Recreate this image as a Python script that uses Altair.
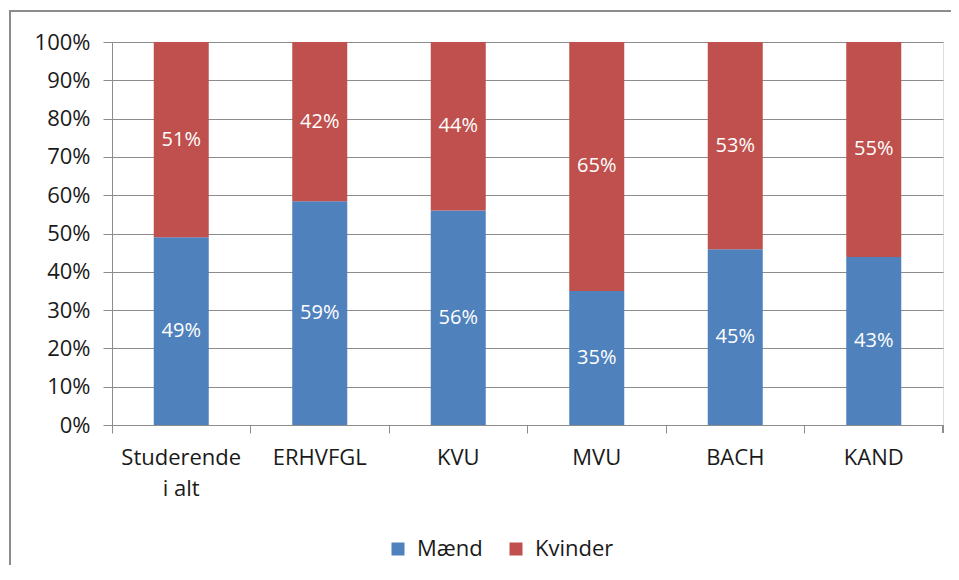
import altair as alt
import pandas as pd

categories = ["Studerende i alt", "ERHVFGL", "KVU", "MVU", "BACH", "KAND"]
series = ["Mænd", "Kvinder"]
maend = [49, 59, 56, 35, 45, 43]
kvinder = [51, 42, 44, 65, 53, 55]
colors = ["#4F81BD", "#C0504D"]
y_ticks = [0, 0.1, 0.2, 0.3, 0.4, 0.5, 0.6, 0.7, 0.8, 0.9, 1.0]

rows = []
for i, c in enumerate(categories):
    rows.append({"cat": c, "series": "Mænd", "value": maend[i], "ord": 0})
    rows.append({"cat": c, "series": "Kvinder", "value": kvinder[i], "ord": 1})
df = pd.DataFrame(rows)

FONT = "Open Sans"
W, H = 831, 383
GRAY = "#8C8C8C"
PB = 140

xaxis = alt.Axis(
    title=None,
    labelAngle=0,
    bandPosition=0,
    tickSize=8,
    tickColor=GRAY,
    domainColor=GRAY,
    labelFontSize=22,
    labelFont=FONT,
    labelColor="#1a1a1a",
    labelPadding=14,
    labelLineHeight=31,
    labelBaseline="top",
    labelExpr="datum.label == 'Studerende i alt' ? ['Studerende', 'i alt'] : datum.label",
)
xscale = alt.Scale(paddingInner=0, paddingOuter=0)

yscale = alt.Scale(domain=[0, 1])
yaxis = alt.Axis(
    title=None,
    values=y_ticks,
    format=".0%",
    tickSize=9,
    tickColor=GRAY,
    domainColor=GRAY,
    gridColor=GRAY,
    labelFontSize=22,
    labelFont=FONT,
    labelColor="#1a1a1a",
    labelPadding=13,
    labelOverlap=False,
)

bars = alt.Chart(df).mark_bar(size=55).encode(
    x=alt.X("cat:N", sort=categories, scale=xscale, axis=xaxis),
    y=alt.Y("value:Q", stack="normalize", scale=yscale, axis=yaxis),
    color=alt.Color(
        "series:N",
        sort=series,
        scale=alt.Scale(domain=series, range=colors),
        legend=alt.Legend(
            title=None,
            orient="none",
            legendX=275,
            legendY=496,
            direction="horizontal",
            symbolType="square",
            symbolSize=169,
            symbolStrokeWidth=0,
            labelFontSize=22,
            labelFont=FONT,
            labelColor="#1a1a1a",
            labelOffset=8,
            columnPadding=22,
            padding=0,
        ),
    ),
    order=alt.Order("ord:Q", sort="ascending"),
)

labels = (
    alt.Chart(df)
    .transform_stack(
        stack="value",
        groupby=["cat"],
        as_=["v0", "v1"],
        offset="normalize",
        sort=[alt.SortField("ord", order="ascending")],
    )
    .transform_calculate(mid="(datum.v0 + datum.v1) / 2", lab="datum.value + '%'")
    .mark_text(color="white", fontSize=20, font=FONT, baseline="middle")
    .encode(
        x=alt.X("cat:N", sort=categories, scale=xscale, axis=xaxis),
        y=alt.Y("mid:Q", scale=yscale, axis=yaxis),
        text="lab:N",
    )
)

end_tick = alt.Chart(df).mark_rule(color=GRAY).encode(
    x=alt.value(W), y=alt.value(H), y2=alt.value(H + 8)
)

frame_left = alt.Chart(df).mark_rule(color=GRAY, strokeWidth=2).encode(
    x=alt.value(-102), y=alt.value(-31), y2=alt.value(H + PB)
)
frame_top = alt.Chart(df).mark_rule(color=GRAY, strokeWidth=2).encode(
    x=alt.value(-103), x2=alt.value(W + 8), y=alt.value(-31)
)

chart = (
    alt.layer(bars, labels, end_tick, frame_left, frame_top)
    .properties(
        width=W,
        height=H,
        autosize=alt.AutoSizeParams(type="none"),
        padding={"left": 104, "top": 34, "right": 8, "bottom": PB},
    )
    .configure_view(stroke=None)
    .configure(background="white")
)

chart.save("out.html", embed_options={"renderer": "svg", "actions": False})
